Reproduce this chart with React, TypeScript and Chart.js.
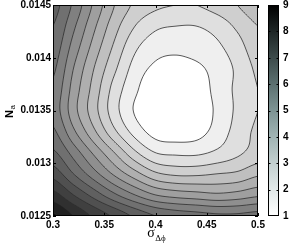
import { useEffect, useRef } from 'react';
import { Chart, registerables } from 'chart.js';

Chart.register(...registerables);

// grid coordinates (sigma_dphi across, N_a down from top)
const X_VALUES = [0.3, 0.32, 0.34, 0.36, 0.38, 0.4, 0.42, 0.44, 0.46, 0.48, 0.5];
const Y_VALUES = [0.0145, 0.0143, 0.0141, 0.0139, 0.0137, 0.0135, 0.0133, 0.0131, 0.0129, 0.0127, 0.0125];

// field values, one row per Y value
const Z_R0 = [6.2, 5.4, 4.4, 3.5, 2.9, 2.6, 2.5, 2.5, 2.7, 3.0, 3.3];
const Z_R1 = [6.0, 5.1, 4.1, 3.2, 2.5, 2.1, 2.0, 2.0, 2.2, 2.6, 3.0];
const Z_R2 = [5.8, 4.8, 3.8, 2.9, 2.1, 1.7, 1.6, 1.7, 1.9, 2.3, 2.8];
const Z_R3 = [5.6, 4.5, 3.5, 2.6, 1.8, 1.4, 1.35, 1.4, 1.7, 2.1, 2.6];
const Z_R4 = [5.4, 4.3, 3.3, 2.3, 1.6, 1.1, 1.0, 1.1, 1.7, 2.1, 2.5];
const Z_R5 = [5.3, 4.2, 3.2, 2.2, 1.45, 1.1, 1.0, 1.1, 1.6, 2.1, 2.5];
const Z_R6 = [5.6, 4.6, 3.6, 2.6, 1.8, 1.3, 1.2, 1.3, 1.7, 2.2, 2.6];
const Z_R7 = [6.1, 5.3, 4.4, 3.5, 2.6, 2.0, 1.9, 1.9, 2.1, 2.4, 2.7];
const Z_R8 = [6.8, 6.0, 5.2, 4.4, 3.7, 3.1, 2.9, 2.9, 3.0, 3.1, 3.4];
const Z_R9 = [7.7, 7.0, 6.3, 5.6, 5.0, 4.5, 4.3, 4.2, 4.1, 4.2, 4.4];
const Z_R10 = [8.6, 8.0, 7.4, 6.9, 6.4, 6.0, 5.8, 5.7, 5.6, 5.6, 5.7];
const Z_ROWS = [Z_R0, Z_R1, Z_R2, Z_R3, Z_R4, Z_R5, Z_R6, Z_R7, Z_R8, Z_R9, Z_R10];

const LEVELS = [1.5, 2, 2.5, 3, 3.5, 4, 4.5, 5, 5.5, 6, 6.5, 7, 7.5, 8, 8.5];

const X_TICK_VALUES = [0.3, 0.35, 0.4, 0.45, 0.5];
const X_TICK_LABELS = ['0.3', '0.35', '0.4', '0.45', '0.5'];
const Y_TICK_VALUES = [0.0125, 0.013, 0.0135, 0.014, 0.0145];
const Y_TICK_LABELS = ['0.0125', '0.013', '0.0135', '0.014', '0.0145'];
const CB_TICK_VALUES = [1, 2, 3, 4, 5, 6, 7, 8, 9];
const CB_TICK_LABELS = ['1', '2', '3', '4', '5', '6', '7', '8', '9'];
const CB_MIN = 1;
const CB_MAX = 9;
const CB_STOP_COLORS = ['#ffffff', '#e2e9e9', '#c3d0d0', '#a0b4b4', '#7e9494', '#5c7070', '#3d4b4b', '#1e2626', '#000000'];

const TICK_FONT = { family: "'Liberation Sans', Arial, sans-serif", size: 10, weight: 'bold' as const };

const clampI = (v: number, lo: number, hi: number) => Math.max(lo, Math.min(hi, v));
const cr = (p0: number, p1: number, p2: number, p3: number, t: number) =>
  0.5 * (2 * p1 + (-p0 + p2) * t + (2 * p0 - 5 * p1 + 4 * p2 - p3) * t * t + (-p0 + 3 * p1 - 3 * p2 + p3) * t * t * t);

function sampleField(xv: number, yv: number) {
  const nx = X_VALUES.length, ny = Y_VALUES.length;
  const fx = (xv - X_VALUES[0]) / (X_VALUES[1] - X_VALUES[0]);
  const fy = (Y_VALUES[0] - yv) / (Y_VALUES[0] - Y_VALUES[1]);
  const ix = clampI(Math.floor(fx), 0, nx - 2);
  const iy = clampI(Math.floor(fy), 0, ny - 2);
  const tx = fx - ix, ty = fy - iy;
  const rv: number[] = [];
  for (let k = -1; k <= 2; k++) {
    const r = Z_ROWS[clampI(iy + k, 0, ny - 1)];
    rv.push(cr(r[clampI(ix - 1, 0, nx - 1)], r[ix], r[ix + 1], r[clampI(ix + 2, 0, nx - 1)], tx));
  }
  return cr(rv[0], rv[1], rv[2], rv[3], ty);
}

function bandGray(v: number) {
  let L = CB_MIN;
  for (const lv of LEVELS) if (v >= lv) L = lv;
  return Math.round((255 * (CB_MAX - L)) / (CB_MAX - CB_MIN));
}

const contourPlugin = {
  id: 'contourPlugin',
  afterDraw(chart: any) {
    const { ctx, chartArea: a, scales } = chart;
    const xs = scales.x, ys = scales.y, cs = scales.cb;
    const left = Math.round(a.left), top = Math.round(a.top);
    const right = Math.round(a.right), bottom = Math.round(a.bottom);
    const w = right - left, h = bottom - top;

    // filled bands
    const img = ctx.createImageData(w, h);
    for (let j = 0; j < h; j++) {
      const yv = ys.getValueForPixel(top + j + 0.5);
      for (let i = 0; i < w; i++) {
        const xv = xs.getValueForPixel(left + i + 0.5);
        const g = bandGray(sampleField(xv, yv));
        const o = (j * w + i) * 4;
        img.data[o] = g; img.data[o + 1] = g; img.data[o + 2] = g; img.data[o + 3] = 255;
      }
    }
    ctx.putImageData(img, left, top);

    // contour lines (marching squares)
    const step = 2;
    const pxs: number[] = [], pys: number[] = [];
    for (let x = left; x < right; x += step) pxs.push(x);
    pxs.push(right);
    for (let y = top; y < bottom; y += step) pys.push(y);
    pys.push(bottom);
    const V = pys.map((py) => { const yv = ys.getValueForPixel(py); return pxs.map((px) => sampleField(xs.getValueForPixel(px), yv)); });
    ctx.save();
    ctx.beginPath();
    ctx.rect(left, top, w, h);
    ctx.clip();
    ctx.strokeStyle = '#303030';
    ctx.lineWidth = 0.8;
    for (const L of LEVELS) {
      ctx.beginPath();
      for (let j = 0; j < pys.length - 1; j++) {
        for (let i = 0; i < pxs.length - 1; i++) {
          const x0 = pxs[i], x1 = pxs[i + 1], y0 = pys[j], y1 = pys[j + 1];
          const A = V[j][i], B = V[j][i + 1], C = V[j + 1][i + 1], D = V[j + 1][i];
          const pts: number[][] = [];
          if ((A < L) !== (B < L)) pts.push([x0 + ((L - A) / (B - A)) * (x1 - x0), y0]);
          if ((B < L) !== (C < L)) pts.push([x1, y0 + ((L - B) / (C - B)) * (y1 - y0)]);
          if ((D < L) !== (C < L)) pts.push([x0 + ((L - D) / (C - D)) * (x1 - x0), y1]);
          if ((A < L) !== (D < L)) pts.push([x0, y0 + ((L - A) / (D - A)) * (y1 - y0)]);
          if (pts.length >= 2) { ctx.moveTo(pts[0][0], pts[0][1]); ctx.lineTo(pts[1][0], pts[1][1]); }
          if (pts.length === 4) { ctx.moveTo(pts[2][0], pts[2][1]); ctx.lineTo(pts[3][0], pts[3][1]); }
        }
      }
      ctx.stroke();
    }
    ctx.restore();

    // frame and inward ticks
    ctx.save();
    ctx.strokeStyle = '#000';
    ctx.lineWidth = 1;
    ctx.strokeRect(left + 0.5, top + 0.5, w - 1, h - 1);
    ctx.beginPath();
    for (const v of X_TICK_VALUES) {
      const px = Math.round(xs.getPixelForValue(v)) + 0.5;
      ctx.moveTo(px, bottom); ctx.lineTo(px, bottom - 3);
      ctx.moveTo(px, top); ctx.lineTo(px, top + 3);
    }
    for (const v of Y_TICK_VALUES) {
      const py = Math.round(ys.getPixelForValue(v)) + 0.5;
      ctx.moveTo(left, py); ctx.lineTo(left + 3, py);
      ctx.moveTo(right, py); ctx.lineTo(right - 3, py);
    }
    ctx.stroke();

    // colorbar
    const cx0 = cs.left + 10, cx1 = cs.left + 21;
    const cyTop = Math.round(cs.getPixelForValue(CB_MAX)), cyBot = Math.round(cs.getPixelForValue(CB_MIN));
    const grad = ctx.createLinearGradient(0, cyBot, 0, cyTop);
    CB_STOP_COLORS.forEach((c, k) => grad.addColorStop(k / (CB_STOP_COLORS.length - 1), c));
    ctx.fillStyle = grad;
    ctx.fillRect(cx0, cyTop, cx1 - cx0, cyBot - cyTop);
    ctx.strokeRect(cx0 + 0.5, cyTop + 0.5, cx1 - cx0 - 1, cyBot - cyTop - 1);
    ctx.beginPath();
    for (const v of CB_TICK_VALUES) {
      if (v === CB_MIN || v === CB_MAX) continue;
      const py = Math.round(cs.getPixelForValue(v)) + 0.5;
      ctx.moveTo(cx0, py); ctx.lineTo(cx0 + 2.5, py);
      ctx.moveTo(cx1, py); ctx.lineTo(cx1 - 2.5, py);
    }
    ctx.stroke();

    // axis titles
    ctx.fillStyle = '#000';
    ctx.textBaseline = 'alphabetic';
    ctx.textAlign = 'left';
    const bigF = "14px 'Liberation Serif', 'Times New Roman', serif";
    const smallF = "9px 'Liberation Serif', 'Times New Roman', serif";
    ctx.font = bigF;
    const wS = ctx.measureText('σ').width;
    ctx.font = smallF;
    const wD = ctx.measureText('Δϕ').width;
    const xc = (left + right) / 2 + 1;
    const sx = xc - (wS + wD + 0.5) / 2;
    ctx.font = bigF;
    ctx.fillText('σ', sx, 237);
    ctx.font = smallF;
    ctx.fillText('Δϕ', sx + wS + 0.5, 241);

    ctx.translate(13, (top + bottom) / 2 + 1);
    ctx.rotate(-Math.PI / 2);
    const nF = "bold 11px 'Liberation Sans', Arial, sans-serif";
    const aF = "8px 'Liberation Sans', Arial, sans-serif";
    ctx.font = nF;
    const wN = ctx.measureText('N').width;
    ctx.font = aF;
    const wA = ctx.measureText('a').width;
    const s0 = -(wN + wA + 0.5) / 2;
    ctx.font = nF;
    ctx.fillText('N', s0, 0);
    ctx.font = aF;
    ctx.fillText('a', s0 + wN + 0.5, 2);
    ctx.restore();
  },
};

export default function App() {
  const ref = useRef<HTMLCanvasElement | null>(null);
  useEffect(() => {
    if (!ref.current) return;
    const points: { x: number; y: number }[] = [];
    Y_VALUES.forEach((y) => X_VALUES.forEach((x) => points.push({ x, y })));
    const chart = new Chart(ref.current, {
      type: 'scatter',
      data: { datasets: [{ data: points, pointRadius: 0, showLine: false }] },
      options: {
        animation: false,
        responsive: false,
        events: [],
        layout: { padding: { top: 5, left: 0, right: 0, bottom: 0 } },
        plugins: { legend: { display: false }, tooltip: { enabled: false } },
        scales: {
          x: {
            type: 'linear', min: 0.3, max: 0.5,
            grid: { display: false, drawTicks: false }, border: { display: false },
            afterBuildTicks: (s: any) => { s.ticks = X_TICK_VALUES.map((v) => ({ value: v })); },
            afterFit: (s: any) => { s.height = 29; s.paddingLeft = 0; s.paddingRight = 0; },
            ticks: { autoSkip: false, maxRotation: 0, padding: 3, color: '#000', font: TICK_FONT, callback: (_v: any, i: number) => X_TICK_LABELS[i] },
          },
          y: {
            type: 'linear', min: 0.0125, max: 0.0145,
            grid: { display: false, drawTicks: false }, border: { display: false },
            afterBuildTicks: (s: any) => { s.ticks = Y_TICK_VALUES.map((v) => ({ value: v })); },
            afterFit: (s: any) => { s.width = 53; s.paddingTop = 0; s.paddingBottom = 0; },
            ticks: { autoSkip: false, padding: 2, color: '#000', font: TICK_FONT, callback: (_v: any, i: number) => Y_TICK_LABELS[i] },
          },
          cb: {
            type: 'linear', position: 'right', min: CB_MIN, max: CB_MAX,
            grid: { display: false, drawTicks: false }, border: { display: false },
            afterBuildTicks: (s: any) => { s.ticks = CB_TICK_VALUES.map((v) => ({ value: v })); },
            afterFit: (s: any) => { s.width = 33; s.paddingTop = 0; s.paddingBottom = 0; },
            ticks: { autoSkip: false, padding: 25, color: '#000', font: TICK_FONT, callback: (_v: any, i: number) => CB_TICK_LABELS[i] },
          },
        },
      },
      plugins: [contourPlugin],
    } as any);
    return () => chart.destroy();
  }, []);
  return (
    <div style={{ position: 'fixed', left: 0, top: 0, width: 291, height: 245, background: '#fff' }}>
      <canvas ref={ref} width={291} height={245} style={{ display: 'block' }} />
    </div>
  );
}
